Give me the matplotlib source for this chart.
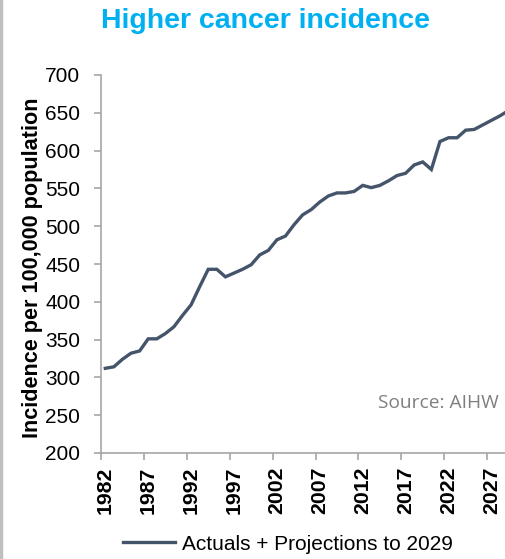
import matplotlib
matplotlib.use("Agg")
import matplotlib.pyplot as plt
import matplotlib.transforms as mtrans
from matplotlib.lines import Line2D

years = list(range(1982, 2030))
incidence = [312, 314, 324, 332, 335, 351, 351, 358, 367, 382,
             396, 420, 443, 443, 433, 438, 443, 449, 462, 468,
             482, 487, 502, 515, 522, 532, 540, 544, 544, 546,
             554, 551, 554, 560, 567, 570, 581, 585, 575, 612,
             617, 617, 627, 628, 634, 640, 646, 653]
tick_years = [1982, 1987, 1992, 1997, 2002, 2007, 2012, 2017, 2022, 2027]
y_ticks = [200, 250, 300, 350, 400, 450, 500, 550, 600, 650, 700]

W, H = 506, 559
fig = plt.figure(figsize=(W / 100, H / 100), dpi=100)
fig.patch.set_facecolor("white")
ax = fig.add_axes([101 / W, 1 - 453 / H, 1 - 101 / W, (453 - 75) / H])

idx = list(range(len(years)))
ax.plot(idx, incidence, color="#44546A", lw=2.4, solid_joinstyle="miter")

ax.set_ylim(200, 700)
ax.set_xlim(-0.5, 46.7)
ax.set_yticks(y_ticks)
ax.set_yticklabels([str(v) for v in y_ticks], fontsize=15, family="Liberation Sans")
ax.set_xticks([years.index(y) - 0.5 for y in tick_years])
ax.set_xticklabels([])
off = mtrans.ScaledTranslation(0, -14 / 100, fig.dpi_scale_trans)
for y in tick_years:
    ax.text(years.index(y), 200, str(y), rotation=90, ha="center", va="top",
            fontsize=15.3, fontweight="bold", family="Liberation Sans",
            transform=ax.transData + off, clip_on=False)

for s in ["top", "right"]:
    ax.spines[s].set_visible(False)
for s in ["left", "bottom"]:
    ax.spines[s].set_color("#A6A6A6")
    ax.spines[s].set_linewidth(1.2)
ax.tick_params(axis="both", color="#A6A6A6", length=5, width=1.2, direction="out")
ax.tick_params(axis="y", pad=10)
ax.set_facecolor("white")

fig.text(33 / W, 1 - 268 / H, "Incidence per 100,000 population", rotation=90,
         ha="center", va="center", fontsize=15.6, fontweight="bold", family="Liberation Sans")
fig.text(266 / W, 1 - 21 / H, "Higher cancer incidence", ha="center", va="center",
         fontsize=20.5, fontweight="bold", color="#00B0F0", family="Liberation Sans")
fig.text(499 / W, 1 - 403 / H, "Source: AIHW", ha="right", va="center",
         fontsize=13.8, color="#7F7F7F", family="Open Sans")

# legend
handle = Line2D([], [], color="#44546A", lw=2.4)
fig.legend([handle], ["Actuals + Projections to 2029"], loc="center",
           bbox_to_anchor=(288 / W, 1 - 544 / H), frameon=False,
           prop={"family": "Liberation Sans", "size": 15}, handlelength=2.5,
           handletextpad=0.33, borderpad=0, borderaxespad=0)

# left border
fig.add_artist(Line2D([1 / W, 1 / W], [0, 1], color="#BFBFBF", lw=2.5,
                      transform=fig.transFigure))

fig.savefig("out.png", dpi=100)
